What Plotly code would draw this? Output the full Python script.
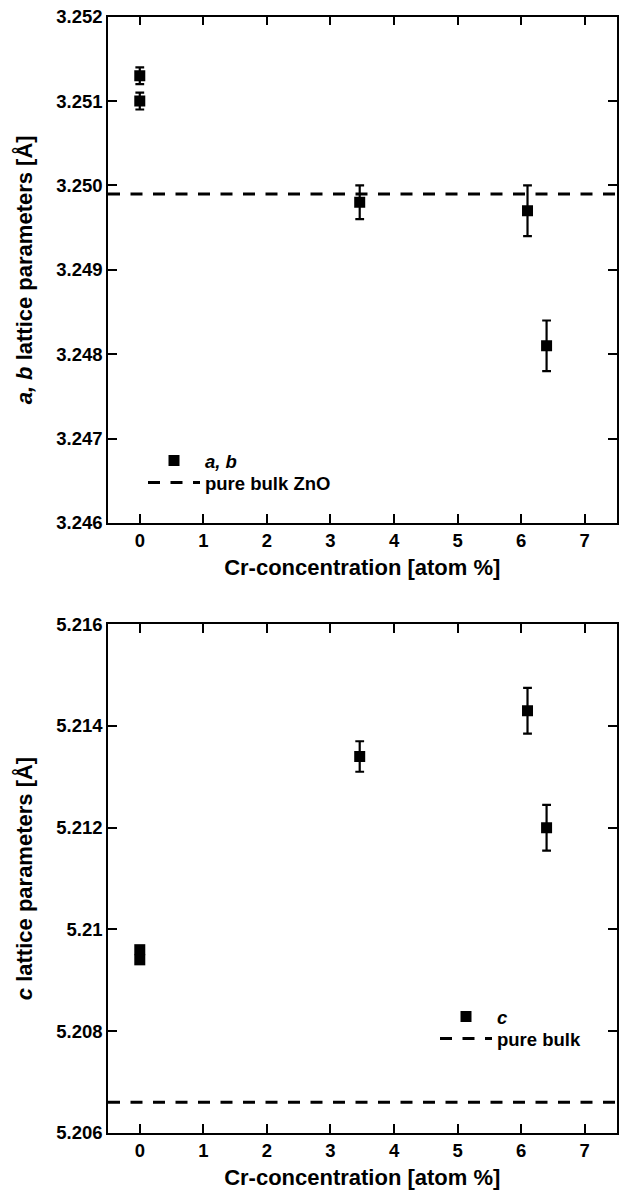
import plotly.graph_objects as go

# ---- data ----
conc_ab = [0, 0, 3.46, 6.1, 6.4]
ab_vals = [3.2513, 3.2510, 3.2498, 3.2497, 3.2481]
ab_err = [0.0001, 0.0001, 0.0002, 0.0003, 0.0003]
ab_bulk = 3.2499

conc_c = [0, 0, 3.46, 6.1, 6.4]
c_vals = [5.2096, 5.2094, 5.2134, 5.2143, 5.2120]
c_err = [0.00005, 0.00005, 0.0003, 0.00045, 0.00045]
c_bulk = 5.2066

x_range = [-0.5, 7.5]
x_ticks = [0, 1, 2, 3, 4, 5, 6, 7]
ab_ticks = [3.246, 3.247, 3.248, 3.249, 3.250, 3.251, 3.252]
ab_labels = ["3.246", "3.247", "3.248", "3.249", "3.250", "3.251", "3.252"]
c_ticks = [5.206, 5.208, 5.210, 5.212, 5.214, 5.216]
c_labels = ["5.206", "5.208", "5.21", "5.212", "5.214", "5.216"]

FONT = "Liberation Sans, Arial, Helvetica, sans-serif"
W, H = 624, 1193

fig = go.Figure()

err_style = dict(type="data", thickness=2.2, width=4.4, color="black")
dash = "12px,10.5px"

fig.add_trace(go.Scatter(
    x=conc_ab, y=ab_vals, mode="markers", name="<b><i>a, b</i></b>",
    marker=dict(symbol="square", size=11, color="black"),
    error_y=dict(array=ab_err, **err_style),
    xaxis="x", yaxis="y", legend="legend"))
fig.add_trace(go.Scatter(
    x=x_range, y=[ab_bulk, ab_bulk], mode="lines", name="<b>pure bulk ZnO</b>",
    line=dict(color="black", width=3, dash=dash),
    xaxis="x", yaxis="y", legend="legend2"))

fig.add_trace(go.Scatter(
    x=conc_c, y=c_vals, mode="markers", name="<b><i>c</i></b>",
    marker=dict(symbol="square", size=11, color="black"),
    error_y=dict(array=c_err, **err_style),
    xaxis="x2", yaxis="y2", legend="legend3"))
fig.add_trace(go.Scatter(
    x=x_range, y=[c_bulk, c_bulk], mode="lines", name="<b>pure bulk</b>",
    line=dict(color="black", width=3, dash=dash),
    xaxis="x2", yaxis="y2", legend="legend4"))

xdom = [108 / W, 616.5 / W]
ydom_top = [(H - 523) / H, (H - 16.7) / H]
ydom_bot = [(H - 1132.7) / H, (H - 624.3) / H]

axis_common = dict(
    showline=True, linecolor="black", linewidth=1.5, mirror="ticks",
    ticks="inside", ticklen=9, tickwidth=2, tickcolor="black",
    showgrid=False, zeroline=False, automargin=False,
    tickfont=dict(family=FONT, size=18.5, color="black", weight="bold"),
)

xtitle = dict(text="<b>Cr-concentration [atom %]</b>",
              font=dict(family=FONT, size=22, color="black"), standoff=10)


def leg(x, y):
    return dict(x=x / W, y=(H - y) / H, xanchor="left", yanchor="middle",
                bgcolor="rgba(0,0,0,0)", borderwidth=0,
                font=dict(family=FONT, size=18.5, color="black"),
                tracegroupgap=0, itemwidth=52)


fig.update_layout(
    width=W, height=H,
    margin=dict(l=0, r=0, t=0, b=0, autoexpand=False),
    paper_bgcolor="white", plot_bgcolor="white",
    showlegend=True,
    xaxis=dict(domain=xdom, anchor="y", range=x_range, tickvals=x_ticks,
               title=xtitle, **axis_common),
    yaxis=dict(domain=ydom_top, anchor="x", range=[ab_ticks[0], ab_ticks[-1]],
               tickvals=ab_ticks, ticktext=ab_labels,
               title=dict(text="<b><i>a, b</i> lattice parameters [Å]</b>",
                          font=dict(family=FONT, size=22, color="black"), standoff=18),
               **axis_common),
    xaxis2=dict(domain=xdom, anchor="y2", range=x_range, tickvals=x_ticks,
                title=xtitle, **axis_common),
    yaxis2=dict(domain=ydom_bot, anchor="x2", range=[c_ticks[0], c_ticks[-1]],
                tickvals=c_ticks, ticktext=c_labels,
                title=dict(text="<b><i>c</i> lattice parameters [Å]</b>",
                           font=dict(family=FONT, size=22, color="black"), standoff=18),
                **axis_common),
    legend=leg(143, 461),
    legend2=leg(143, 483),
    legend3=leg(435, 1017),
    legend4=leg(435, 1039),
)

fig.write_html("out.html",
               config={"displayModeBar": False},
               post_script="document.body.style.margin='0';document.body.style.overflow='hidden';")
